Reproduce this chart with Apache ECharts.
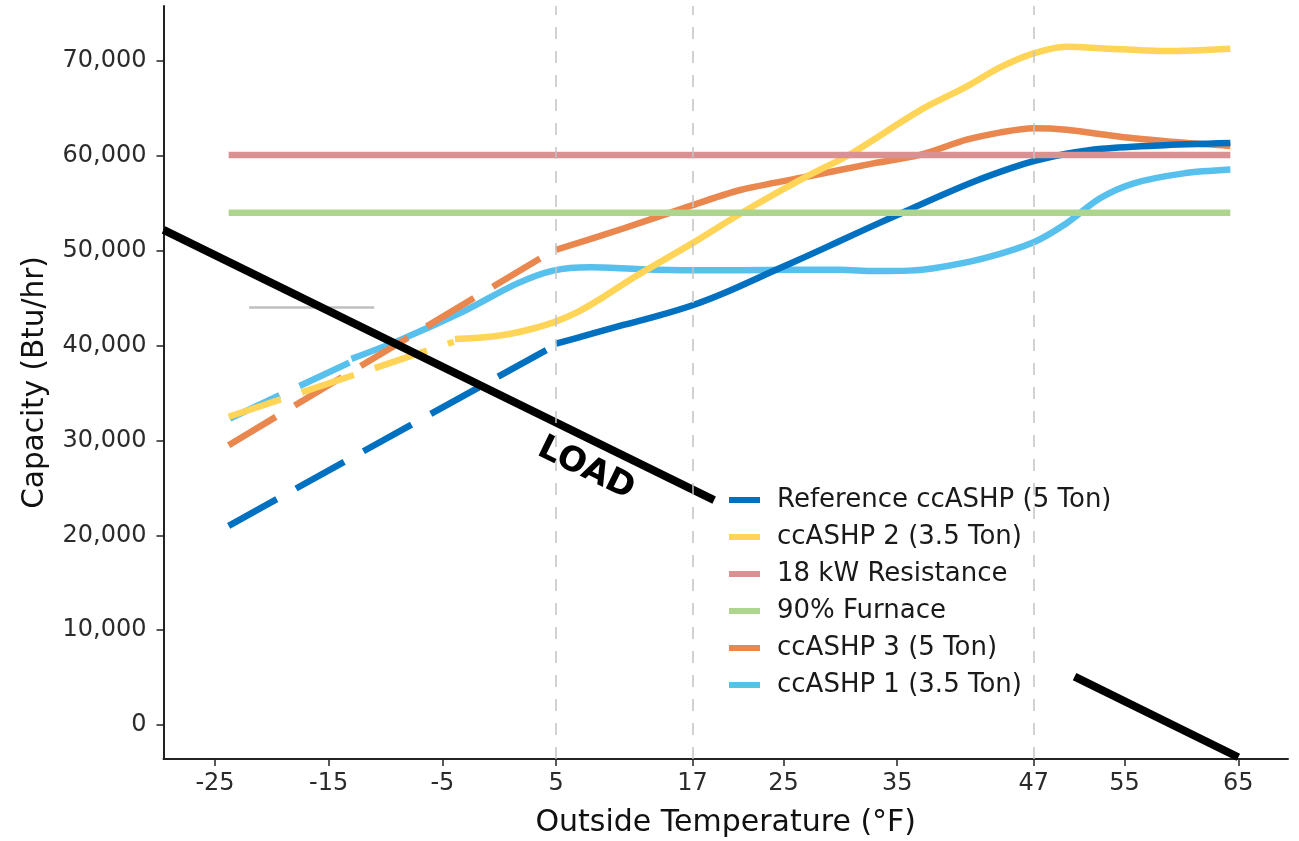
<!DOCTYPE html>
<html>
<head>
<meta charset="utf-8">
<script src="https://cdn.jsdelivr.net/npm/echarts@6/dist/echarts.min.js"></script>
<style>
html,body{margin:0;padding:0;background:#fff;}
#chart{width:1299px;height:841px;}
</style>
</head>
<body>
<div id="chart"></div>
<script>
// ---- data ----
const xTicks = [-25, -15, -5, 5, 17, 25, 35, 47, 55, 65];
const yTicks = [0, 10000, 20000, 30000, 40000, 50000, 60000, 70000];
const refTemps = [5, 17, 47];

const refSolid = [[5,40200],[8,41200],[11,42200],[14,43150],[17,44250],[20,45650],[24,47800],[27,49400],[30,51050],[33,52700],[36,54300],[39,55900],[42,57400],[45,58700],[47,59450],[50,60250],[53,60750],[58,61100],[64.3,61350]];
const refDash = [[-23.8,21000],[5,40100]];

const c2Solid = [[-3.9,40700],[-1,40900],[1,41250],[3,41800],[5,42550],[7,43600],[9,45000],[12,47300],[17,50800],[21.2,53900],[27,57800],[30.9,60200],[37,64800],[41.1,67300],[44,69300],[47,70800],[49.9,71500],[53.7,71300],[58.7,71050],[64.3,71300]];
const c2Dash = [[-23.8,32500],[-4,40400]];

const resistance = [[-23.8,60100],[64.3,60100]];
const furnace = [[-23.8,54000],[64.3,54000]];

const c3Solid = [[5,50100],[10.9,52340],[17,54800],[21.2,56400],[27,57800],[32.9,59210],[37,60100],[41.1,61700],[44,62450],[47,62900],[49.9,62750],[52.8,62300],[55.8,61850],[60,61400],[64.3,61050]];
const c3Dash = [[-23.8,29500],[5,50200]];

const c1Solid = [[-13,38600],[-8.7,40600],[-2.9,43750],[1.5,46500],[4.75,47900],[8,48250],[12.4,48050],[17,47950],[21.2,47950],[26,48000],[30,48000],[33,47850],[36,47900],[38.2,48150],[42.6,49200],[47,50900],[49.9,52900],[52.8,55500],[55.8,57100],[60.2,58150],[64.3,58550]];
const c1Dash = [[-23.7,32300],[-13,38300]];

const grayLine = [[-22,44000],[-11,44000]];
const load1 = [[-29.53,52200],[18.9,23700]];
const load2 = [[50.6,5100],[65,-3400]];
const loadLabel = [[7.63,26990]];

const names = ['Reference ccASHP (5 Ton)','ccASHP 2 (3.5 Ton)','18 kW Resistance','90% Furnace','ccASHP 3 (5 Ton)','ccASHP 1 (3.5 Ton)'];
const colors = {ref:'#0070C0', c2:'#FFD457', res:'#DA9192', fur:'#AED58E', c3:'#E9874F', c1:'#58C0EC'};

// ---- chart ----
const chart = echarts.init(document.getElementById('chart'), null, {renderer:'canvas'});
const LW = 6.5;
const DASH = [55, 22];
function line(name, data, color, dashed, extra) {
  return Object.assign({
    type:'line', name:name, data:data, showSymbol:false, symbol:'none',
    smooth: dashed ? false : 0.3, silent:true,
    lineStyle:{color:color, width:LW, type: dashed ? DASH : 'solid', cap:'butt'},
    itemStyle:{color:color}
  }, extra || {});
}
const font = 'DejaVu Sans';
const option = {
  animation:false,
  backgroundColor:'#fff',
  grid:{left:163.5, right:11, top:6, bottom:82, containLabel:false, outerBoundsMode:'none'},
  xAxis:{
    type:'value', min:-29.53, max:69.37,
    name:'Outside Temperature (°F)', nameLocation:'middle', nameGap:49,
    nameTextStyle:{fontFamily:font, fontSize:30, color:'#111'},
    axisLine:{show:true, onZero:false, lineStyle:{color:'#222', width:2}},
    axisTick:{show:true, customValues:xTicks, length:7, lineStyle:{color:'#222', width:1.5}},
    axisLabel:{show:true, customValues:xTicks, margin:13, fontFamily:font, fontSize:24, color:'#2b2b2b'},
    splitLine:{show:false}
  },
  yAxis:{
    type:'value', min:-3584, max:75797,
    name:'Capacity (Btu/hr)', nameLocation:'middle', nameGap:113,
    nameTextStyle:{fontFamily:font, fontSize:29.5, color:'#111'},
    axisLine:{show:true, onZero:false, lineStyle:{color:'#222', width:2}},
    axisTick:{show:true, customValues:yTicks, length:7, lineStyle:{color:'#222', width:1.5}},
    axisLabel:{show:true, customValues:yTicks, margin:17, fontFamily:font, fontSize:24, color:'#2b2b2b',
      formatter:function(v){return Number(v).toLocaleString('en-US');}},
    splitLine:{show:false}
  },
  legend:{
    show:true, orient:'vertical', left:729, top:485, padding:0,
    itemWidth:31, itemHeight:6, itemGap:7, icon:'rect',
    textStyle:{fontFamily:font, fontSize:26, color:'#1a1a1a', lineHeight:30, padding:[0,0,0,12]},
    data:names,
    selectedMode:false
  },
  series:[
    Object.assign(line('gray', grayLine, '#BFBFBF', false), {
      lineStyle:{color:'#BFBFBF', width:2.5},
      markLine:{silent:true, symbol:['none','none'], label:{show:false},
        lineStyle:{color:'#C4C4C4', width:1.5, type:[12,12]},
        data: refTemps.map(function(t){return {xAxis:t};})}
    }),
    line(names[5]+' ext', c1Dash, colors.c1, true),
    line(names[5], c1Solid, colors.c1, false),
    line(names[4]+' ext', c3Dash, colors.c3, true),
    line(names[4], c3Solid, colors.c3, false),
    line(names[0]+' ext', refDash, colors.ref, true),
    line(names[0], refSolid, colors.ref, false),
    line(names[1]+' ext', c2Dash, colors.c2, true),
    line(names[1], c2Solid, colors.c2, false),
    line(names[2], resistance, colors.res, false),
    line(names[3], furnace, colors.fur, false),
    line('LOAD', load1, '#000', false, {lineStyle:{color:'#000', width:8, cap:'butt'}}),
    line('LOAD2', load2, '#000', false, {lineStyle:{color:'#000', width:8, cap:'butt'}}),
    {type:'scatter', name:'LOAD label', data:loadLabel, symbolSize:1, silent:true, z:10,
      itemStyle:{color:'rgba(0,0,0,0)'},
      label:{show:true, formatter:'LOAD', position:'inside', rotate:-26, align:'center', verticalAlign:'middle',
        fontFamily:font, fontWeight:'bold', fontSize:34, color:'#000', textBorderWidth:0, opacity:1}}
  ]
};
chart.setOption(option);
</script>
</body>
</html>
